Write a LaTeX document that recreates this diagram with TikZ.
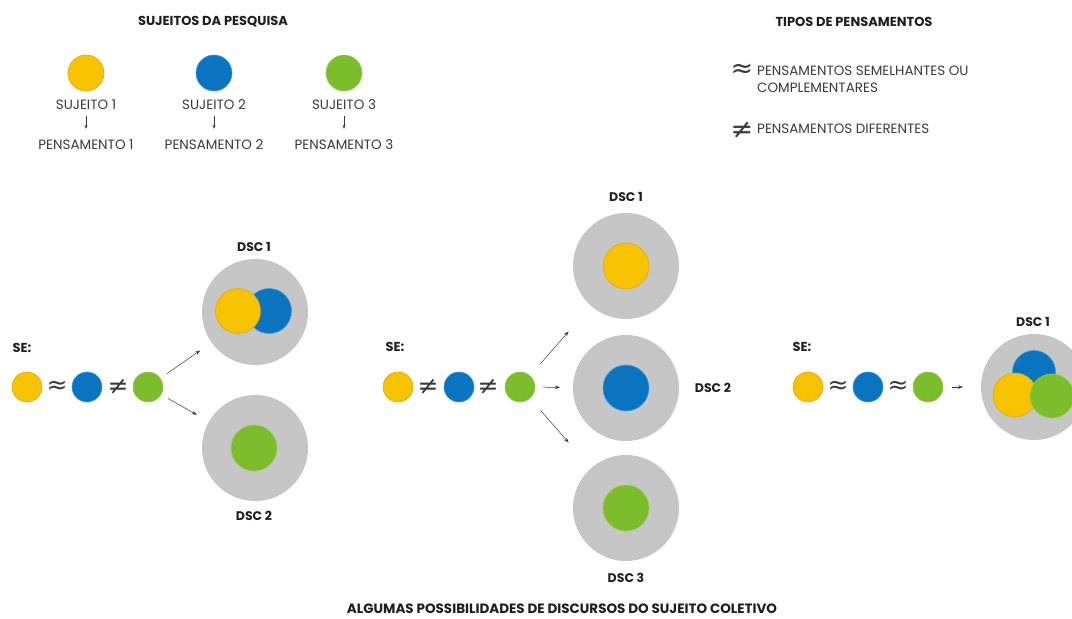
\documentclass[tikz,border=0pt]{standalone}
\usepackage{fontspec}
\setmainfont{Poppins}
\newfontfamily\symfont{DejaVu Sans}
\usetikzlibrary{arrows.meta}
\definecolor{cYellow}{HTML}{F7C300}
\definecolor{cYellowEdge}{HTML}{E3A712}
\definecolor{cBlue}{HTML}{0A74C0}
\definecolor{cBlueEdge}{HTML}{3C9BDD}
\definecolor{cGreen}{HTML}{7CBD2C}
\definecolor{cGreenEdge}{HTML}{9CCB55}
\definecolor{cGrey}{HTML}{C6C6C6}
\definecolor{cText}{HTML}{3A3A3A}
\definecolor{cHead}{HTML}{1E1E1E}
\tikzset{
  dot/.style={circle, inner sep=0pt, outer sep=0pt, line width=0.6pt, minimum size=#1},
  ydot/.style={dot=#1, fill=cYellow, draw=cYellowEdge},
  bdot/.style={dot=#1, fill=cBlue, draw=cBlueEdge},
  gdot/.style={dot=#1, fill=cGreen, draw=cGreenEdge},
  dsc/.style={circle, inner sep=0pt, outer sep=0pt, minimum size=106pt, fill=cGrey},
  head/.style={font=\bfseries\fontsize{13}{15}\selectfont, text=cHead, inner sep=0pt},
  dsclbl/.style={font=\bfseries\fontsize{12.5}{14}\selectfont, text=cHead, inner sep=0pt},
  lbl/.style={font=\fontsize{13.5}{17}\selectfont, text=cText, inner sep=0pt},
  rel/.style={font=\symfont\fontsize{25}{25}\selectfont, text=cText, inner sep=0pt},
  bigrel/.style={font=\symfont\fontsize{27}{27}\selectfont, text=cText, inner sep=0pt},
  arr/.style={-{Stealth[length=5pt,width=3.6pt]}, line width=0.5pt, draw=cText},
  smallarr/.style={-{Stealth[length=4pt,width=3pt]}, line width=0.5pt, draw=cText},
}
\begin{document}
\begin{tikzpicture}[x=1pt, y=-1pt]
\useasboundingbox (0,0) rectangle (1072,619);
\clip (0,0) rectangle (1072,619);

% ---- subjects of the research ----
\node[head] (hsuj) at (213,22) {SUJEITOS DA PESQUISA};
\foreach \n/\x/\s in {1/86/ydot, 2/214/bdot, 3/344/gdot}{
  \node[\s=36pt] (s\n) at (\x,73) {};
  \node[lbl] (sl\n) at (\x,105) {SUJEITO \n};
  \node[lbl] (pl\n) at (\x,145) {PENSAMENTO \n};
  \draw[smallarr, shorten <=6pt, shorten >=11pt] (sl\n.south) -- (pl\n.north);
}

% ---- kinds of thoughts ----
\node[head] (htip) at (854,22) {TIPOS DE PENSAMENTOS};
\node[bigrel] (sa) at (742,71) {≈};
\node[lbl, anchor=west, align=left] (ta) at (757,79) {PENSAMENTOS SEMELHANTES OU\\COMPLEMENTARES};
\node[bigrel] (sn) at (742,130) {≠};
\node[lbl, anchor=west] (tn) at (757,129) {PENSAMENTOS DIFERENTES};

% ---- case 1: two similar, one different ----
\node[head] (se1) at (22,348) {SE:};
\node[ydot=30pt] (a1) at (27,387) {};
\node[rel] (r1a) at (57,387) {≈};
\node[bdot=30pt] (b1) at (87,387) {};
\node[rel] (r1b) at (118,387) {≠};
\node[gdot=30pt] (c1) at (148,387) {};

\node[dsc] (d11) at (255,312) {};
\node[bdot=45pt] (d11b) at (269,311) {};
\node[ydot=45pt] (d11y) at (238,311) {};
\node[dsclbl] (l11) at (254,247) {DSC 1};

\node[dsc] (d12) at (255,448) {};
\node[gdot=46pt] (d12g) at (254,448) {};
\node[dsclbl] (l12) at (254,516) {DSC 2};

\draw[arr, shorten <=8pt, shorten >=14pt] (c1) -- (d11);
\draw[arr, shorten <=8pt, shorten >=14pt] (c1) -- (d12);

% ---- case 2: three different ----
\node[head] (se2) at (395,347) {SE:};
\node[ydot=30pt] (a2) at (398,387) {};
\node[rel] (r2a) at (428,387) {≠};
\node[bdot=30pt] (b2) at (459,387) {};
\node[rel] (r2b) at (488,387) {≠};
\node[gdot=30pt] (c2) at (520,387) {};

\node[dsc] (d21) at (626,266) {};
\node[ydot=46pt] (d21y) at (626,266) {};
\node[dsclbl] (l21) at (626,197) {DSC 1};

\node[dsc] (d22) at (626,388) {};
\node[bdot=46pt] (d22b) at (626,388) {};
\node[dsclbl] (l22) at (713,388) {DSC 2};

\node[dsc] (d23) at (626,508) {};
\node[gdot=46pt] (d23g) at (626,508) {};
\node[dsclbl] (l23) at (626,578) {DSC 3};

\draw[arr, shorten <=16pt, shorten >=34pt] (c2) -- (d21);
\draw[arr, shorten <=8pt, shorten >=13pt] (c2) -- (d22);
\draw[arr, shorten <=16pt, shorten >=34pt] (c2) -- (d23);

% ---- case 3: all similar ----
\node[head] (se3) at (802,347) {SE:};
\node[ydot=30pt] (a3) at (808,387) {};
\node[rel] (r3a) at (838,387) {≈};
\node[bdot=30pt] (b3) at (868,387) {};
\node[rel] (r3b) at (898,387) {≈};
\node[gdot=30pt] (c3) at (928,387) {};

\node[dsc] (d31) at (1034,387) {};
\node[bdot=43pt] (d31b) at (1034,372) {};
\node[ydot=44pt] (d31y) at (1015,395) {};
\node[gdot=44pt] (d31g) at (1052,396) {};
\node[dsclbl] (l31) at (1033,322) {DSC 1};

\draw[arr, shorten <=9pt, shorten >=18pt] (c3) -- (d31);

% ---- caption ----
\node[head, font=\bfseries\fontsize{13.5}{15}\selectfont] (cap) at (562,609) {ALGUMAS POSSIBILIDADES DE DISCURSOS DO SUJEITO COLETIVO};
\end{tikzpicture}
\end{document}
